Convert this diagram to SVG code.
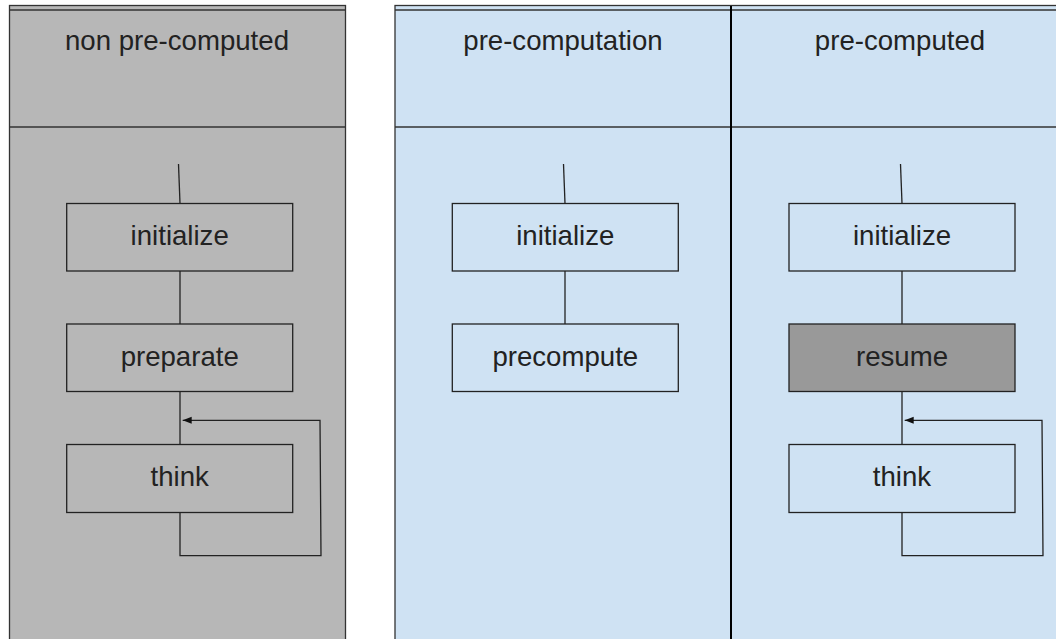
<svg xmlns="http://www.w3.org/2000/svg" width="1056" height="639" viewBox="0 0 1056 639">
<style>
  .lane { stroke:#333; stroke-width:1.3; }
  .gray { fill:#b7b7b7; }
  .blue { fill:#cfe2f3; }
  .node rect { stroke:#222; stroke-width:1.3; }
  .lbl { font-family:"Liberation Sans", Arial, sans-serif; font-size:27.6px; fill:#222; text-anchor:middle; }
  .conn { fill:none; stroke:#222; stroke-width:1.3; }
</style>
<defs>
  <marker id="ah" markerWidth="10" markerHeight="8" refX="9" refY="4" orient="auto" markerUnits="userSpaceOnUse">
    <path d="M0,0.5 L9,4 L0,7.5 Z" fill="#111"/>
  </marker>
</defs>
<rect width="1056" height="639" fill="#ffffff"/>

<g id="lane-non-precomputed">
  <rect class="lane gray" x="9.5" y="5.5" width="336" height="640"/>
  <line class="lane" x1="9.5" y1="10" x2="345.5" y2="10"/>
  <line class="lane" x1="9.5" y1="127" x2="345.5" y2="127"/>
  <text class="lbl" x="177" y="50">non pre-computed</text>
</g>
<g id="lane-precomputation">
  <rect class="lane blue" x="395" y="5.5" width="700" height="640"/>
  <line class="lane" x1="395" y1="10" x2="1056" y2="10"/>
  <line class="lane" x1="395" y1="127" x2="1056" y2="127"/>
  <text class="lbl" x="563" y="50">pre-computation</text>
</g>
<g id="lane-precomputed">
  <line x1="731" y1="6" x2="731" y2="639" stroke="#000" stroke-width="2"/>
  <text class="lbl" x="900" y="50">pre-computed</text>
</g>

<g id="connectors">
  <line class="conn" x1="178.5" y1="164" x2="180" y2="203.5"/>
  <line class="conn" x1="180" y1="271" x2="180" y2="324"/>
  <line class="conn" x1="180" y1="391.5" x2="180" y2="444.5"/>
  <path class="conn" d="M180,512.5 V555.7 H321 L320,420.3 H182.7" marker-end="url(#ah)"/>

  <line class="conn" x1="563.5" y1="164" x2="565" y2="203.5"/>
  <line class="conn" x1="565" y1="271" x2="565" y2="324"/>

  <line class="conn" x1="900.5" y1="164" x2="902" y2="203.5"/>
  <line class="conn" x1="902" y1="271" x2="902" y2="324"/>
  <line class="conn" x1="902" y1="391.5" x2="902" y2="444.5"/>
  <path class="conn" d="M902,512.5 V555.7 H1043 L1042,420.3 H904.7" marker-end="url(#ah)"/>
</g>

<g id="n-init-1" class="node">
  <rect class="gray" x="66.7" y="203.5" width="226" height="67.5"/>
  <text class="lbl" x="179.7" y="245">initialize</text>
</g>
<g id="n-preparate" class="node">
  <rect class="gray" x="66.7" y="324" width="226" height="67.5"/>
  <text class="lbl" x="179.7" y="365.5">preparate</text>
</g>
<g id="n-think-1" class="node">
  <rect class="gray" x="66.7" y="444.5" width="226" height="68"/>
  <text class="lbl" x="179.7" y="485.5">think</text>
</g>

<g id="n-init-2" class="node">
  <rect class="blue" x="452.3" y="203.5" width="226" height="67.5"/>
  <text class="lbl" x="565.3" y="245">initialize</text>
</g>
<g id="n-precompute" class="node">
  <rect class="blue" x="452.3" y="324" width="226" height="67.5"/>
  <text class="lbl" x="565.3" y="365.5">precompute</text>
</g>

<g id="n-init-3" class="node">
  <rect class="blue" x="789" y="203.5" width="226" height="67.5"/>
  <text class="lbl" x="902" y="245">initialize</text>
</g>
<g id="n-resume" class="node">
  <rect fill="#999999" x="789" y="324" width="226" height="67.5"/>
  <text class="lbl" x="902" y="365.5">resume</text>
</g>
<g id="n-think-3" class="node">
  <rect class="blue" x="789" y="444.5" width="226" height="68"/>
  <text class="lbl" x="902" y="485.5">think</text>
</g>
</svg>
